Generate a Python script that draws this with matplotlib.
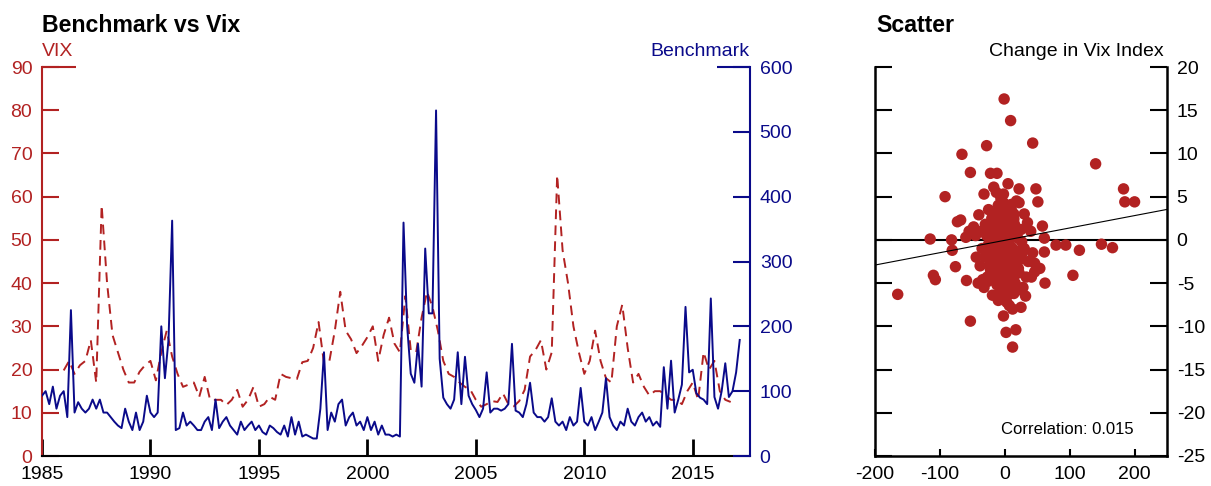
import numpy as np
import matplotlib
matplotlib.use('Agg')
import matplotlib.pyplot as plt

plt.rcParams['font.family'] = ['Liberation Sans', 'DejaVu Sans']
plt.rcParams['axes.unicode_minus'] = False

RED = '#b22222'
NAVY = '#0a0a8a'

# benchmark, every two months from Jan 1985
bench_start = 1985.0
bench_step = 1 / 6
benchmark = [
    93, 100, 80, 107, 73, 93,      # 1985
    100, 60, 225, 67, 83, 73,      # 1986
    67, 73, 87, 73, 87, 67,        # 1987
    67, 60, 53, 47, 43, 73,        # 1988
    53, 40, 67, 40, 53, 93,        # 1989
    67, 60, 67, 200, 120, 180,     # 1990
    363, 40, 43, 67, 47, 53,       # 1991
    47, 40, 40, 53, 60, 40,        # 1992
    87, 43, 53, 60, 47, 40,        # 1993
    33, 53, 40, 47, 53, 40,        # 1994
    47, 37, 33, 47, 43, 37,        # 1995
    33, 47, 30, 60, 33, 53,        # 1996
    30, 33, 30, 27, 27, 73,        # 1997
    160, 40, 67, 53, 80, 87,       # 1998
    47, 60, 67, 47, 53, 40,        # 1999
    60, 40, 53, 33, 47, 33,        # 2000
    33, 30, 33, 30, 360, 200,      # 2001
    127, 113, 173, 107, 320, 220,  # 2002
    220, 533, 150, 90, 80, 73,     # 2003
    87, 160, 80, 153, 93, 80,      # 2004
    71, 60, 73, 129, 67, 73,       # 2005
    73, 70, 73, 80, 173, 70,       # 2006
    67, 60, 80, 113, 67, 60,       # 2007
    60, 53, 60, 89, 53, 47,        # 2008
    53, 40, 60, 47, 53, 105,       # 2009
    53, 47, 60, 40, 53, 67,        # 2010
    120, 60, 47, 40, 53, 47,       # 2011
    73, 53, 47, 60, 67, 53,        # 2012
    60, 47, 53, 45, 137, 73,       # 2013
    147, 67, 87, 110, 230, 129,    # 2014
    133, 97, 90, 87, 80, 243,      # 2015
    91, 73, 100, 143, 91, 100,     # 2016
    129, 179,                      # 2017
]

# VIX, quarterly from 1986
vix_start = 1986.0
vix_step = 0.25
vix = [
    19.8, 22, 19, 21,      # 1986
    22, 26.8, 17, 58,      # 1987
    40, 28, 24, 20,        # 1988
    17, 17, 19.5, 21,      # 1989
    22, 17.5, 24, 29,      # 1990
    23, 19, 16, 16.5,      # 1991
    17, 13.7, 18.3, 13,    # 1992
    13, 13, 11.8, 13,      # 1993
    15.3, 11.4, 13, 16,    # 1994
    11.4, 12, 13.7, 13,    # 1995
    19, 18.3, 18, 17.8,    # 1996
    21.7, 22, 25, 31,      # 1997
    21.5, 22, 29, 38,      # 1998
    29, 27, 23.8, 25.5,    # 1999
    27.5, 30, 22, 28,      # 2000
    32, 26, 24, 37,        # 2001
    24.5, 24, 32, 38,      # 2002
    34.5, 29, 22, 19,      # 2003
    18.3, 17, 16, 15.3,    # 2004
    13, 11.4, 12, 12.7,    # 2005
    12.5, 14.5, 12, 11.5,  # 2006
    12.7, 15.3, 23, 24.5,  # 2007
    26.8, 20, 24, 65,      # 2008
    47.6, 40, 30, 24,      # 2009
    19, 22, 29, 22,        # 2010
    18, 17, 30, 35,        # 2011
    25, 17, 19, 16,        # 2012
    14, 15, 15, 14,        # 2013
    13, 13, 12, 15,        # 2014
    17, 13, 24, 20,        # 2015
    22, 15, 13, 12.5,      # 2016
]

# scatter: change in benchmark vs change in vix
scatter_x = [
    -1, 9, 43, -28, -66, 140, -53, -22, -12, -92, 183, 185, 200, 22, 48, 51, 22,
    -32, -17, -2, -115, -82, -73, -68, -40, -55, 58, 61, 79, 94, 115, 149, 166,
    -165, -110, -107, -76, -81, -59, -53, -41, -34, -2, 2, 17, 12, 25, 7, -19,
    -9, -4, 14, 62, 105, 46, 41, 33, 54, 46, 61, 43, -48, -45, -30, -25, -10, 10,
    30, 35, 40, -60,
    -20, -15, -10, -5, 0, 5, 10, 15, 20, 25, -25, -18, -12, -6, 0, 6, 12, 18, 24,
    30, -30, -22, -14, -8, -2, 4, 10, 16, 22, 28, -28, -35, -38, -32, -26, -16,
    -8, 2, 8, 14, -4, 3, 7, -12, -20, 20, -6, 0, 8, 32, -10, 3, 12, -18, 26, 36,
    -44, -36, 18, -6, 5, -13, -3, 1, 9, -1, 15, -24,
    -17, -11, -7, -3, 2, 6, 11, 17, 21, -21, -15, -9, -5, 1, 5, 9, 13, 19, -19,
    -13, -7, -1, 3, 7, 11, 15, -23, -16, -10, -4, 2, 8, 14, 21, 27, -27, -12, -6,
    0, 6, 12, -8, -2, 4, 10, 16, -14, 0,
]
scatter_y = [
    16.3, 13.8, 11.2, 10.9, 9.9, 8.8, 7.8, 7.7, 7.7, 5.0, 5.9, 4.4, 4.4, 5.9, 5.9,
    4.4, 4.3, 5.3, 6.1, 5.3, 0.1, 0.0, 2.1, 2.3, 2.9, 1.0, 1.6, 0.2, -0.6, -0.6,
    -1.2, -0.5, -0.9, -6.3, -4.1, -4.6, -3.1, -1.2, -4.7, -9.4, -5.0, -4.6, -8.8,
    -10.7, -10.4, -12.4, -7.8, -7.6, -6.4, -6.2, -6.7, -6.2, -5.0, -4.1, -3.7,
    -4.3, -4.3, -3.3, -2.7, -1.4, -1.5, 1.5, 0.5, 1.8, 3.5, 4.0, 3.5, 3.0, 2.0,
    1.0, 0.3,
    2.5, 1.5, 0.5, 2.0, 1.0, 2.5, 0.8, 1.8, 0.2, 1.2, -0.5, -1.5, -2.5, -1.0,
    -2.0, -0.5, -1.8, -3.0, -2.2, -1.0, -2.0, -3.5, -4.5, -3.2, -4.0, -3.0, -4.8,
    -5.0, -3.8, -5.5, 0.5, -1.0, -3.0, -5.5, -4.8, 3.0, 3.5, 3.8, 2.0, 3.0, 0.0,
    0.3, -1.5, 1.0, -2.8, -5.8, -5.5, -6.0, -6.0, -6.5, -7.0, -7.2, -8.0, 0.0,
    -0.2, -2.5, -2.0, 1.0, 4.5, 4.8, 6.5, 5.5, 1.5, -1.2, 1.2, -3.3, -2.0, 1.0,
    1.2, 0.0, -0.8, -1.6, -0.3, 0.9, -0.9, 0.6, -1.3, -1.1, -2.2, -1.9, -2.6, -1.7,
    -2.4, -2.9, -3.4, -2.6, -3.9, -3.6, -4.2, -3.0, -4.6, -5.1, -3.9, -4.1, -2.9,
    2.0, 2.7, 1.6, 2.9, 1.8, 2.4, -3.3, -1.5, -4.3, -5.2, -5.9, -5.0, -6.3, -5.6,
    3.9, 4.3, 3.1, 4.1, 0.4, 0.7, -0.6,
]
fit_slope = 0.0143
fit_intercept = -0.05
corr_text = 'Correlation: 0.015'

bench_t = bench_start + bench_step * np.arange(len(benchmark))
vix_t = vix_start + vix_step * np.arange(len(vix))

fig = plt.figure(figsize=(12.11, 4.86), dpi=100)
W, H = 1211, 486
FS = 14

# ---- left panel ----
ax = fig.add_axes([42 / W, 30 / H, 708 / W, 389 / H])
ax2 = ax.twinx()

ax.plot(vix_t, vix, color=RED, lw=1.4, linestyle=(0, (5, 3.2)))
ax2.plot(bench_t, benchmark, color=NAVY, lw=1.4)

ax.set_xlim(1985, 2017.64)
ax.set_ylim(0, 90)
ax2.set_ylim(0, 600)
ax.set_yticks(range(0, 91, 10))
ax2.set_yticks(range(0, 601, 100))
ax.set_xticks(range(1985, 2016, 5))

for s in ['top', 'right']:
    ax.spines[s].set_visible(False)
for s in ['top', 'left', 'bottom']:
    ax2.spines[s].set_visible(False)
ax.spines['left'].set_color(RED)
ax.spines['left'].set_linewidth(1.5)
ax.spines['bottom'].set_color('black')
ax.spines['bottom'].set_linewidth(1.5)
ax2.spines['right'].set_color(NAVY)
ax2.spines['right'].set_linewidth(1.5)

ax.tick_params(axis='y', direction='in', length=12, width=1.5, color=RED,
               labelcolor=RED, labelsize=FS, pad=7)
ax.tick_params(axis='x', direction='in', length=12, width=2, color='black',
               labelsize=FS, pad=7)
ax2.tick_params(axis='y', direction='in', length=12, width=1.5, color=NAVY,
                labelcolor=NAVY, labelsize=FS, pad=7)

# top caps on both value axes
ax.plot([0, 34 / 708], [1, 1], transform=ax.transAxes, color=RED, lw=1.5,
        clip_on=False, solid_capstyle='butt')
ax2.plot([1 - 33 / 708, 1], [1, 1], transform=ax2.transAxes, color=NAVY,
         lw=1.5, clip_on=False, solid_capstyle='butt')

fig.text(42 / W, 1 - 32 / H, 'Benchmark vs Vix', fontsize=16.7,
         fontweight='bold', ha='left', va='baseline')
fig.text(42 / W, 1 - 56 / H, 'VIX', fontsize=FS, color=RED,
         ha='left', va='baseline')
fig.text(749 / W, 1 - 56 / H, 'Benchmark', fontsize=FS, color=NAVY,
         ha='right', va='baseline')

# ---- right panel ----
bx = fig.add_axes([875 / W, 30 / H, 292 / W, 389 / H])
bx.scatter(scatter_x, scatter_y, s=68, color=RED, edgecolors='none', zorder=3)
bx.axhline(0, color='black', lw=1.5, zorder=2)
fx = np.array([-200, 250])
bx.plot(fx, fit_slope * fx + fit_intercept, color='black', lw=0.8, zorder=4)

bx.set_xlim(-200, 250)
bx.set_ylim(-25, 20)
bx.set_xticks(range(-200, 201, 100))
bx.set_yticks(range(-25, 21, 5))
bx.spines['top'].set_visible(False)
for s in ['left', 'right', 'bottom']:
    bx.spines[s].set_linewidth(1.8)
bx.tick_params(axis='y', direction='in', length=12, width=1.5, left=True,
               right=True, labelleft=False, labelright=True, labelsize=FS,
               pad=7)
bx.tick_params(axis='x', direction='in', length=5, width=1.5, labelsize=FS,
               pad=7)

fig.text(876 / W, 1 - 32 / H, 'Scatter', fontsize=16.7, fontweight='bold',
         ha='left', va='baseline')
fig.text(1164 / W, 1 - 56 / H, 'Change in Vix Index', fontsize=FS,
         ha='right', va='baseline')
fig.text(1001 / W, 1 - 434 / H, corr_text, fontsize=12, ha='left',
         va='baseline')

fig.savefig('out.png', dpi=100)
